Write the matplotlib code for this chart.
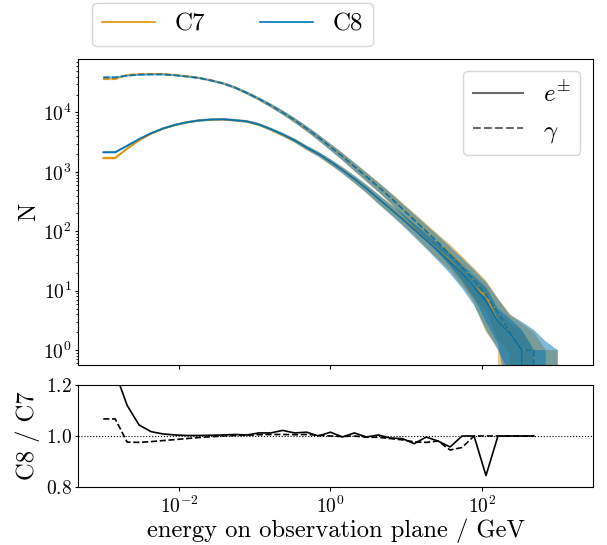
import numpy as np
import matplotlib.pyplot as plt
import matplotlib.ticker as mticker

plt.rcParams['font.family'] = 'serif'
plt.rcParams['font.serif'] = ['cmr10']
plt.rcParams['mathtext.fontset'] = 'cm'
plt.rcParams['axes.formatter.use_mathtext'] = True

# log-spaced energy bins, 1e-3 .. 1e3 GeV
energy = np.logspace(-3, 3, 39)

# C8 mean counts per bin
c8_gamma = np.array([38900, 38900, 41700, 43150, 43650, 43650, 42170, 40270, 38020, 34670,
                     30900, 26300, 21380, 16980, 13180, 10000, 7413, 5370, 3802, 2630,
                     1820, 1230, 832, 562, 372, 240, 155, 100, 64.6, 40.7,
                     25.1, 15.1, 8.5, 4.3, 2.0, 1.0, 1.0, 0, 0])
c8_elec = np.array([2140, 2140, 2750, 3550, 4470, 5370, 6170, 6840, 7330, 7590,
                    7670, 7410, 7080, 6310, 5250, 4270, 3390, 2570, 1995, 1480,
                    1070, 759, 525, 355, 240, 162, 107, 70.8, 46.8, 30.9,
                    19.5, 11.7, 6.8, 3.0, 1.9, 1.0, 0, 0, 0])

# C8 / C7 ratio (bottom panel)
ratio_elec = np.array([1.25, 1.25, 1.12, 1.043, 1.017, 1.008, 1.004, 1.002, 1.002, 1.003,
                       1.004, 1.006, 1.004, 1.012, 1.012, 1.022, 1.012, 1.015, 1.0, 1.015,
                       0.996, 1.012, 0.996, 1.004, 0.992, 0.99, 0.97, 0.996, 0.98, 0.957,
                       1.0, 1.0, 0.845, 1.0, 1.0, 1.0, 1.0, np.nan, np.nan])
ratio_gamma = np.array([1.067, 1.067, 0.976, 0.975, 0.978, 0.982, 0.986, 0.99, 0.994, 0.997,
                        1.0, 1.002, 1.003, 1.005, 1.006, 1.006, 1.005, 1.006, 1.003, 1.0,
                        0.998, 1.0, 0.995, 0.995, 0.99, 0.985, 0.977, 0.975, 0.98, 0.945,
                        0.955, 1.0, 1.0, 1.0, 1.0, 1.0, 1.0, np.nan, np.nan])

# spread (std) per bin
c8_gamma_sd = np.array([1600, 1600, 1700, 1800, 1800, 1800, 1750, 1700, 1650, 1550,
                        1450, 1400, 1300, 1100, 1000, 850, 700, 560, 440, 340,
                        260, 195, 140, 100, 72, 53, 39, 28, 20.5, 14.5,
                        10.5, 7.5, 5.5, 3.0, 1.9, 2.0, 1.2, 1.4, 1.0])
c8_elec_sd = np.array([100, 100, 130, 170, 210, 250, 290, 320, 350, 360,
                       370, 370, 370, 350, 320, 290, 260, 220, 190, 165,
                       135, 110, 85, 65, 48, 36, 27, 20, 15, 11.5,
                       8.5, 6.0, 4.6, 2.0, 1.5, 1.2, 1.0, 1.0, 0])
c7_gamma_sd = np.array([1500, 1500, 1700, 1800, 1800, 1800, 1750, 1700, 1650, 1550,
                        1450, 1400, 1300, 1100, 1000, 850, 700, 560, 450, 350,
                        270, 205, 150, 110, 80, 60, 44, 32, 23, 17,
                        12, 9, 6.5, 3.2, 2.1, 1.8, 1.0, 1.0, 1.0])
c7_elec_sd = np.array([90, 90, 120, 160, 200, 240, 280, 310, 340, 350,
                       360, 360, 360, 340, 310, 280, 250, 215, 185, 160,
                       130, 105, 82, 62, 46, 34, 25, 18.5, 14, 10.5,
                       7.5, 4.5, 3.5, 1.5, 1.0, 1.1, 1.0, 0, 0])

with np.errstate(invalid='ignore', divide='ignore'):
    c7_gamma = np.where(np.isnan(ratio_gamma), c8_gamma, c8_gamma / ratio_gamma)
    c7_elec = np.where(np.isnan(ratio_elec), c8_elec, c8_elec / ratio_elec)

col7 = '#de8f05'
col8 = '#0173b2'

fig = plt.figure(figsize=(6.07, 5.45), dpi=100)
ax = fig.add_axes([0.1285, 0.3303, 0.8484, 0.5615])
ax2 = fig.add_axes([0.1285, 0.1064, 0.8484, 0.1872], sharex=ax)

for col, g, gsd, e, esd in [(col7, c7_gamma, c7_gamma_sd, c7_elec, c7_elec_sd),
                            (col8, c8_gamma, c8_gamma_sd, c8_elec, c8_elec_sd)]:
    ax.fill_between(energy, e - esd, e + esd, color=col, alpha=0.5, lw=0)
    ax.fill_between(energy, g - gsd, g + gsd, color=col, alpha=0.5, lw=0)
    ax.plot(energy, e, color=col, lw=1.2)
    ax.plot(energy, g, color=col, lw=1.2, ls='--')

ax.set_xscale('log')
ax.set_yscale('log')
ax.set_xlim(10**-3.333, 10**3.465)
ax.set_ylim(10**-0.25, 10**4.9)
ax.set_ylabel('N', fontsize=17.7)
ax.yaxis.set_label_coords(-0.074, 0.5)
ax.tick_params(labelsize=14, labelbottom=False)
ax.tick_params(axis='y', which='major', length=2.5, pad=2)
ax.tick_params(axis='y', which='minor', length=1.5)
ax.tick_params(axis='x', length=3)
ax.xaxis.set_major_locator(mticker.FixedLocator([1e-2, 1, 1e2]))
ax.xaxis.set_minor_locator(mticker.NullLocator())

code_handles = [plt.Line2D([], [], color=col7, lw=1.2), plt.Line2D([], [], color=col8, lw=1.2)]
fig.legend(code_handles, ['C7', 'C8'], loc='lower left', bbox_to_anchor=(0.1516, 0.9156),
           borderaxespad=0, ncol=2, fontsize=18, handlelength=2.1, columnspacing=2.2)
kind_handles = [plt.Line2D([], [], color='dimgray', lw=1.5),
                plt.Line2D([], [], color='dimgray', lw=1.5, ls='--')]
ax.legend(kind_handles, [r'$e^{\pm}$', r'$\gamma$'], loc='upper right', fontsize=18)

ax2.plot(energy, ratio_elec, color='k', lw=1.2)
ax2.plot(energy, ratio_gamma, color='k', lw=1.2, ls='--')
ax2.axhline(1.0, color='k', ls=':', lw=0.8)
ax2.set_ylim(0.8, 1.2)
ax2.set_yticks([0.8, 1.0, 1.2])
ax2.set_ylabel('C8 / C7', fontsize=17.7)
ax2.yaxis.set_label_coords(-0.074, 0.5)
ax2.set_xlabel('energy on observation plane / GeV', fontsize=17.7, labelpad=1)
ax2.tick_params(labelsize=14)
ax2.tick_params(axis='y', length=2.5, pad=2)
ax2.tick_params(axis='x', length=3, pad=3)
ax2.xaxis.set_minor_locator(mticker.NullLocator())

fig.savefig('out.png', dpi=100)
